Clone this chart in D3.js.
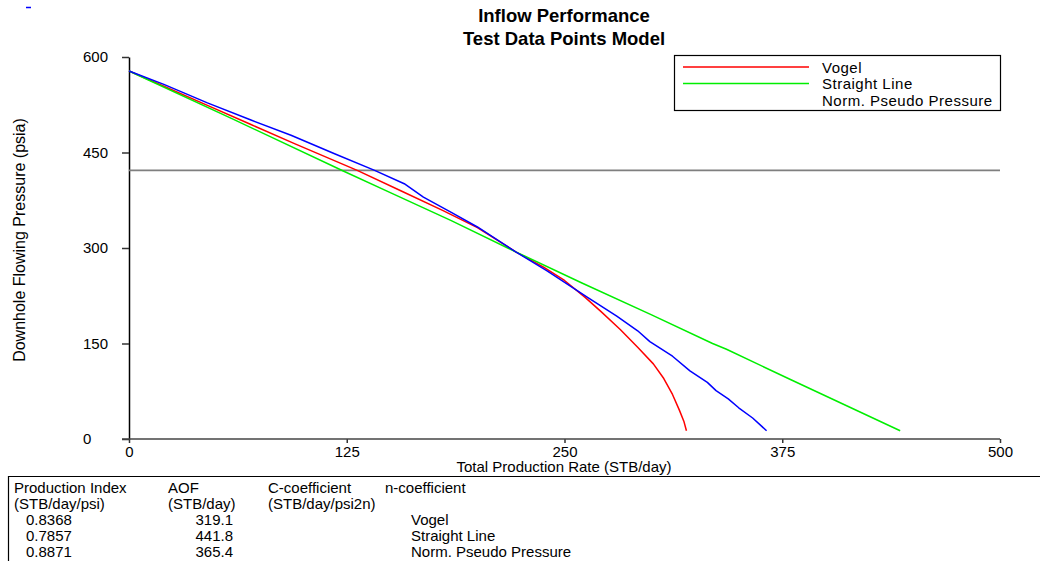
<!DOCTYPE html>
<html>
<head>
<meta charset="utf-8">
<script src="https://cdn.jsdelivr.net/npm/d3@7"></script>
<style>
  html, body { margin: 0; padding: 0; background: #fff; }
  svg { display: block; font-family: "Liberation Sans", Arial, sans-serif; }
</style>
</head>
<body>
<svg id="chart" width="1044" height="561"></svg>
<script>
// Inflow performance curves: [rate STB/day, pressure psia]
const vogel = [[0,578],[20,554],[45,524],[70,494],[95,464],[131,422],[156,390],[180,359],[200,332],[222,294],[238,270],[250,249],[262,222],[271,200],[282,172],[292,144],[301,118],[307,95],[312,70],[316,45],[318.5,28],[320,13]];
const straightLine = [[0,578],[60,502],[123,421],[150,387],[185,343],[222,294],[260,245],[300,195],[335,150],[343,141],[380,93],[442.7,13]];
const pseudoPressure = [[0,578],[20,557],[45,528],[70,501],[93,477],[118,448],[141,422],[158,401],[169,380],[185,356],[200,333],[222,294],[240,264],[263,223],[280,193],[292,170],[299,153],[312,130],[322,107],[332,89],[337,76],[344,63],[350,49],[358,33],[366,13]];
const bubblePointPressure = 422;

const xTicks = [0, 125, 250, 375, 500];
const yTicks = [0, 150, 300, 450, 600];

const seriesNames = ["Vogel", "Straight Line", "Norm. Pseudo Pressure"];
const seriesColors = ["#ff0000", "#00ee00", "#0000ff"];

// Results table
const headerRow1 = ["Production Index", "AOF", "C-coefficient", "n-coefficient"];
const headerRow2 = ["(STB/day/psi)", "(STB/day)", "(STB/day/psi2n)"];
const productionIndex = ["0.8368", "0.7857", "0.8871"];
const aofValues = ["319.1", "441.8", "365.4"];

const FS = 15;
const svg = d3.select("#chart");

const x = d3.scaleLinear().domain([0, 500]).range([129, 1000]);
const y = d3.scaleLinear().domain([0, 600]).range([439, 57]);

// Title
svg.append("text").attr("x", 564).attr("y", 22).attr("text-anchor", "middle")
  .attr("font-size", 18.5).attr("font-weight", "bold").text("Inflow Performance");
svg.append("text").attr("x", 564).attr("y", 45).attr("text-anchor", "middle")
  .attr("font-size", 18.5).attr("font-weight", "bold").text("Test Data Points Model");

// small marker top-left
svg.append("line").attr("x1", 26).attr("x2", 31).attr("y1", 7.5).attr("y2", 7.5)
  .attr("stroke", "#0000ff").attr("stroke-width", 1.5);

// Axes: y labels are left-aligned in a column to the left of the ticks
const yAxis = d3.axisLeft(y).tickValues(yTicks).tickSize(7).tickSizeOuter(0);
const gy = svg.append("g").attr("transform", "translate(129,0)").call(yAxis);
gy.select(".domain").attr("stroke", "#000").attr("stroke-width", 1.5);
gy.selectAll(".tick line").attr("stroke", "#333").attr("stroke-width", 1.5);
gy.selectAll(".tick text").attr("font-size", FS).attr("font-family", "Liberation Sans, Arial, sans-serif")
  .attr("fill", "#000").attr("text-anchor", "start").attr("x", 83 - 129);

const xAxis = d3.axisBottom(x).tickValues(xTicks).tickSize(4).tickSizeOuter(0).tickPadding(3);
const gx = svg.append("g").attr("transform", "translate(0,439)").call(xAxis);
gx.select(".domain").remove();
gx.append("line").attr("x1", 122).attr("x2", 1000).attr("y1", 0).attr("y2", 0)
  .attr("stroke", "#444").attr("stroke-width", 1.5);
gx.selectAll(".tick line").attr("stroke", "#333").attr("stroke-width", 1.5);
gx.selectAll(".tick text").attr("font-size", FS).attr("font-family", "Liberation Sans, Arial, sans-serif").attr("fill", "#000");

svg.append("text").attr("x", 564).attr("y", 472).attr("text-anchor", "middle")
  .attr("font-size", FS).text("Total Production Rate (STB/day)");
svg.append("text").attr("transform", "translate(25,240) rotate(-90)").attr("text-anchor", "middle")
  .attr("font-size", 16).text("Downhole Flowing Pressure (psia)");

// Bubble point pressure line
svg.append("line").attr("x1", x(0)).attr("x2", x(500))
  .attr("y1", y(bubblePointPressure)).attr("y2", y(bubblePointPressure))
  .attr("stroke", "#7f7f7f").attr("stroke-width", 1.6);

// Curves
const line = d3.line().x(d => x(d[0])).y(d => y(d[1]));
[vogel, straightLine, pseudoPressure].forEach((data, i) => {
  svg.append("path").datum(data).attr("d", line)
    .attr("fill", "none").attr("stroke", seriesColors[i]).attr("stroke-width", 1.5)
    .attr("stroke-linejoin", "round");
});

// Legend
const legend = svg.append("g");
legend.append("rect").attr("x", 674.5).attr("y", 55.5).attr("width", 326).attr("height", 55)
  .attr("fill", "#fff").attr("stroke", "#000").attr("stroke-width", 1.2);
seriesNames.forEach((name, i) => {
  const ly = 67 + i * 16.5;
  if (i < 2) {
    legend.append("line").attr("x1", 683).attr("x2", 809).attr("y1", ly).attr("y2", ly)
      .attr("stroke", seriesColors[i]).attr("stroke-width", 1.5);
  }
  legend.append("text").attr("x", 822).attr("y", ly + 5.5).attr("font-size", FS)
    .attr("letter-spacing", 0.5).text(name);
});

// Results table
const table = svg.append("g");
table.append("path").attr("d", "M8.5,561 V476.5 H1040")
  .attr("fill", "none").attr("stroke", "#000").attr("stroke-width", 1.2);
const colX = [14, 168, 268, 385];
headerRow1.forEach((t, i) => {
  table.append("text").attr("x", colX[i]).attr("y", 493).attr("font-size", FS).text(t);
});
headerRow2.forEach((t, i) => {
  table.append("text").attr("x", colX[i]).attr("y", 509).attr("font-size", FS).text(t);
});
seriesNames.forEach((name, i) => {
  const ry = 525 + i * 16;
  table.append("text").attr("x", 26).attr("y", ry).attr("font-size", FS).text(productionIndex[i]);
  table.append("text").attr("x", 233).attr("y", ry).attr("text-anchor", "end").attr("font-size", FS).text(aofValues[i]);
  table.append("text").attr("x", 411).attr("y", ry).attr("font-size", FS).text(name);
});
</script>
</body>
</html>
